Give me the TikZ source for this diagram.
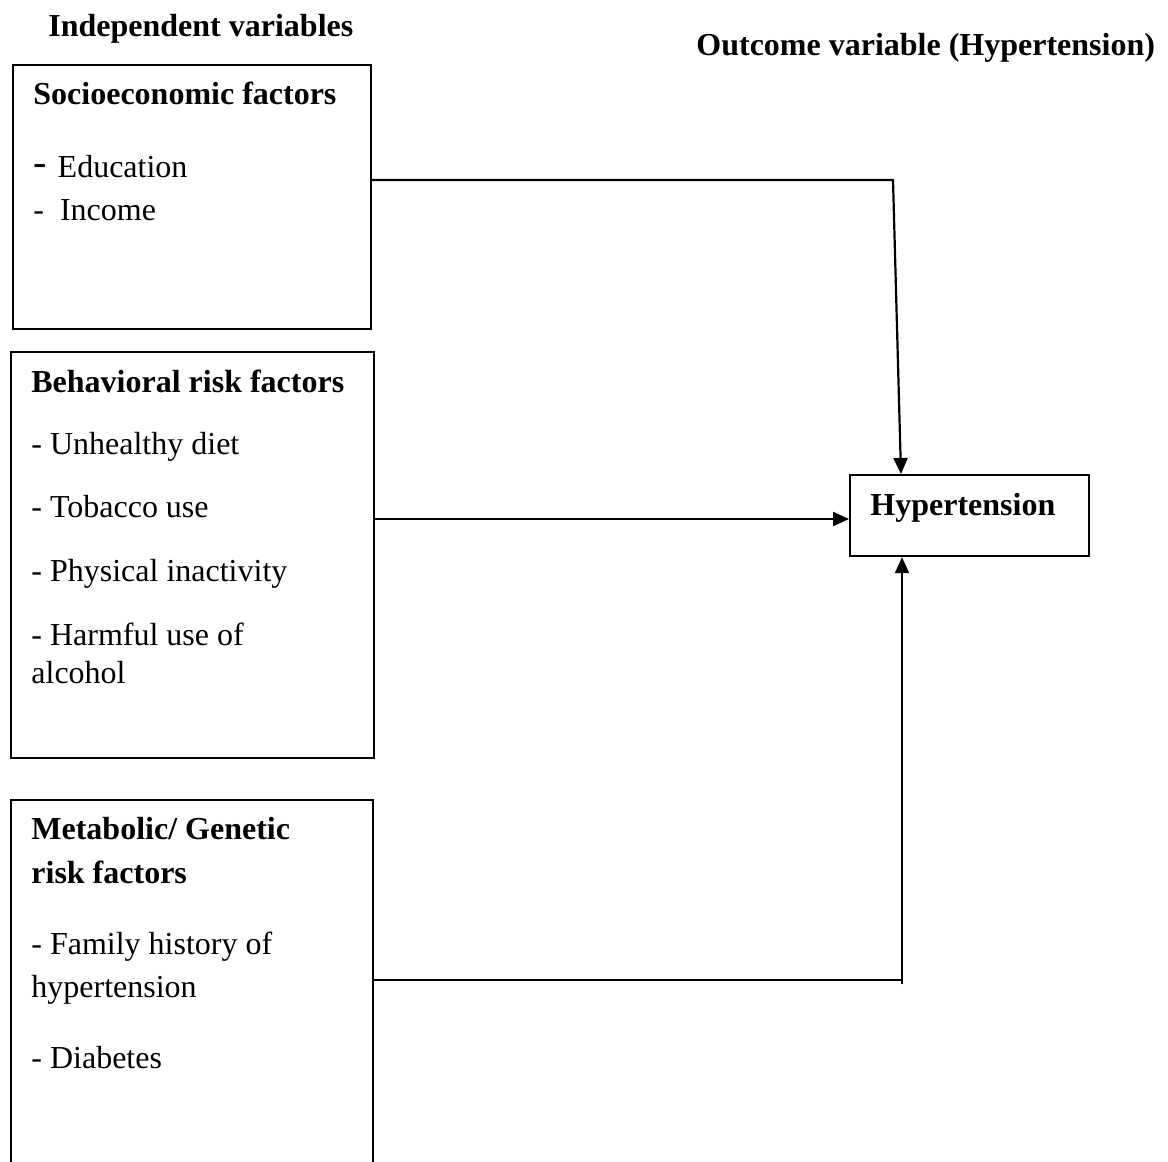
\documentclass[tikz,border=0pt]{standalone}
\usepackage{fontspec}
\setmainfont{Liberation Serif}
\usetikzlibrary{arrows.meta,calc}
\begin{document}
\begin{tikzpicture}[x=0.5pt,y=-0.5pt,
  box/.style={draw,line width=1.1pt,anchor=north west,inner sep=0pt},
  txt/.style={anchor=base west,inner sep=0pt,font=\fontsize{16}{19}\selectfont},
  hd/.style={txt,font=\fontsize{16}{19}\selectfont\bfseries},
  conn/.style={line width=1.1pt},
  arr/.style={line width=1.1pt,-{Triangle[length=8pt,width=7pt]}}]
\useasboundingbox (0,0) rectangle (1168,1162);
\fill[white] (0,0) rectangle (1168,1162);
\clip (0,0) rectangle (1168,1162);
% titles
\node[hd] (t1) at (48,36) {Independent variables};
\node[hd] (t2) at (696,55) {Outcome variable (Hypertension)};
% boxes
\node[box,minimum width=179pt,minimum height=132pt] (s1) at (12,64) {};
\node[box,minimum width=181.5pt,minimum height=203pt] (s2) at (10,351) {};
\node[box,minimum width=181pt,minimum height=190pt] (s3) at (10,799) {};
\node[box,minimum width=119.5pt,minimum height=40.5pt] (hyp) at (849,474) {};
% box 1 text
\node[hd] (s1h) at (33,104) {Socioeconomic factors};
\node[txt] (s1a) at (33,177) {\raisebox{1pt}{\fontsize{20}{20}\selectfont -}\hspace{5.5pt}Education};
\node[txt] (s1b) at (33,220) {-\hspace{8pt}Income};
% box 2 text
\node[hd] (s2h) at (31,392) {Behavioral risk factors};
\node[txt] (s2a) at (31,454) {- Unhealthy diet};
\node[txt] (s2b) at (31,517) {- Tobacco use};
\node[txt] (s2c) at (31,581) {- Physical inactivity};
\node[txt] (s2d) at (31,645) {- Harmful use of};
\node[txt] (s2e) at (31,683) {alcohol};
% box 3 text
\node[hd] (s3h) at (31,839) {Metabolic/ Genetic};
\node[hd] (s3i) at (31,883) {risk factors};
\node[txt] (s3a) at (31,954) {- Family history of};
\node[txt] (s3b) at (31,997) {hypertension};
\node[txt] (s3c) at (31,1068) {- Diabetes};
% outcome text
\node[hd] (hypt) at (870,515) {Hypertension};
% connectors
\coordinate (c1) at (893,180);
\coordinate (a2) at (0,519);
\coordinate (c3) at (902,980);
\draw[arr] (s1.east |- c1) -- (c1) -- ($(hyp.north west)+(52,0)$);
\draw[arr] (s2.east |- a2) -- (hyp.west |- a2);
\draw[conn] (s3.east |- c3) -- (c3);
\draw[arr] ($(c3)+(0,4)$) -- (hyp.south -| c3);
\end{tikzpicture}
\end{document}
